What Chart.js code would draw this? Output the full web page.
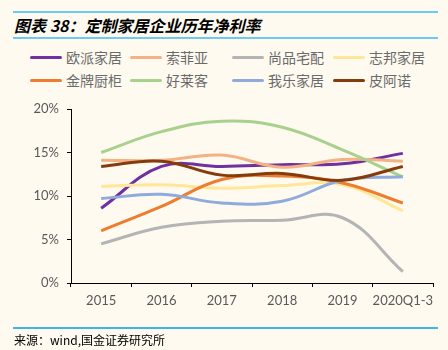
<!DOCTYPE html>
<html>
<head>
<meta charset="utf-8">
<script src="https://cdn.jsdelivr.net/npm/chart.js@4.4.0/dist/chart.umd.min.js"></script>
<style>
  body { margin: 0; background: #fefaf0; }
  #wrap { position: relative; width: 448px; height: 350px; background: #fefaf0; overflow: hidden; }
  .rule { position: absolute; left: 13px; width: 425px; background: #6ccbf0; }
  #title { position: absolute; left: 14px; top: 13px; font: italic bold 16px "Noto Sans CJK SC", sans-serif; color: #000; white-space: nowrap; }
  #legend { position: absolute; left: 0; top: 47px; width: 448px; }
  .item { position: absolute; height: 20px; font: 14px "Noto Sans CJK SC", sans-serif; color: #6b6b6b; white-space: nowrap; }
  .item span.ln { position: absolute; left: 0; top: 9px; width: 32px; height: 3px; border-radius: 2px; }
  .item span.tx { position: absolute; left: 36px; top: 0; line-height: 20px; }
  #source { position: absolute; left: 14px; top: 331px; font: 12px "Noto Sans CJK SC", sans-serif; color: #000; white-space: nowrap; }
  #c { position: absolute; left: 0; top: 0; }
</style>
</head>
<body>
<div id="wrap">
  <div class="rule" style="top:11px;height:2px"></div>
  <div id="title">图表 38：定制家居企业历年净利率</div>
  <div class="rule" style="top:37px;height:2px"></div>
  <div id="legend"></div>
  <canvas id="c" width="448" height="350"></canvas>
  <div class="rule" style="top:327px;height:1.5px;background:#3db5e6"></div>
  <div id="source">来源：wind,国金证券研究所</div>
</div>
<script>
// 年份
const years = ["2015", "2016", "2017", "2018", "2019", "2020Q1-3"];

// 各公司净利率 (%)
const oupai = [8.6, 13.4, 13.4, 13.6, 13.7, 14.9];     // 欧派家居
const suofeiya = [14.1, 14.1, 14.7, 13.3, 14.2, 14.0]; // 索菲亚
const shangpin = [4.5, 6.4, 7.1, 7.2, 7.5, 1.3];       // 尚品宅配
const zhibang = [11.1, 11.3, 10.9, 11.2, 11.3, 8.3];   // 志邦家居
const jinpai = [6.0, 8.8, 11.9, 12.3, 11.5, 9.2];      // 金牌厨柜
const haolaike = [15.0, 17.4, 18.6, 17.9, 15.3, 12.2]; // 好莱客
const wole = [9.7, 10.2, 9.2, 9.4, 11.8, 12.2];        // 我乐家居
const piano = [13.4, 14.0, 12.4, 12.6, 11.8, 13.4];    // 皮阿诺

const names = ["欧派家居", "索菲亚", "尚品宅配", "志邦家居", "金牌厨柜", "好莱客", "我乐家居", "皮阿诺"];
const series = [oupai, suofeiya, shangpin, zhibang, jinpai, haolaike, wole, piano];
const colors = ["#7030a0", "#f4b183", "#b4b4b4", "#ffe699", "#ed7d31", "#a9d18e", "#8faadc", "#843c0c"];

// 图例 (4列2行)
const legendBox = document.getElementById("legend");
const colX = [30, 130, 232, 333];
names.forEach(function (n, i) {
    const d = document.createElement("div");
    d.className = "item";
    d.style.left = colX[i % 4] + "px";
    d.style.top = (Math.floor(i / 4) * 23) + "px";
    d.innerHTML = '<span class="ln" style="background:' + colors[i] + '"></span><span class="tx">' + n + '</span>';
    legendBox.appendChild(d);
});

const datasets = names.map(function (n, i) {
    return {
        label: n,
        data: series[i],
        borderColor: colors[i],
        backgroundColor: colors[i],
        borderWidth: 3,
        pointRadius: 0,
        tension: 0.4,
        fill: false,
        order: names.length - i
    };
});

const tickFont = { family: "Lato, 'Open Sans', sans-serif", size: 13 };

new Chart(document.getElementById("c"), {
    type: "line",
    data: { labels: years, datasets: datasets },
    options: {
        responsive: false,
        animation: false,
        layout: { padding: { left: 31, right: 15, top: 109, bottom: 37 } },
        plugins: { legend: { display: false }, tooltip: { enabled: false } },
        scales: {
            x: {
                offset: true,
                grid: { offset: true, drawOnChartArea: false, color: "#000", tickLength: 4, tickWidth: 1 },
                border: { color: "#000", width: 1 },
                ticks: { color: "#595959", font: tickFont, padding: 6, maxRotation: 0, autoSkip: false },
                afterFit: function (s) { s.height = 30; }
            },
            y: {
                min: 0,
                max: 20,
                grid: { drawOnChartArea: false, color: "#000", tickLength: 4, tickWidth: 1 },
                border: { color: "#000", width: 1 },
                ticks: {
                    stepSize: 5,
                    color: "#595959",
                    font: tickFont,
                    padding: 8,
                    callback: function (v) { return v + "%"; }
                },
                afterFit: function (s) { s.width = 40; }
            }
        }
    }
});
</script>
</body>
</html>
